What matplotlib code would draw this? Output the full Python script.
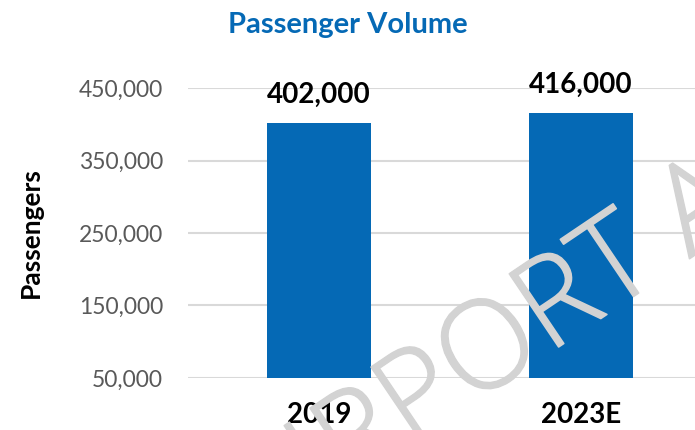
import matplotlib.pyplot as plt
import matplotlib.patheffects as pe
from matplotlib.ticker import FuncFormatter

plt.rcParams['font.family'] = ['Lato', 'DejaVu Sans']

years = ['2019', '2023E']
passengers = [402000, 416000]
y_ticks = [50000, 150000, 250000, 350000, 450000]

blue = '#0569B5'
base = 50000

fig = plt.figure(figsize=(6.95, 4.3), dpi=100)
ax = fig.add_axes([0.2705, 0.121, 0.7295, 0.6743])

x = list(range(len(years)))
ax.bar(x, [p - base for p in passengers], bottom=base, width=0.397,
       color=blue, zorder=2)

# value labels above each bar
for xi, p in zip(x, passengers):
    ax.annotate(f'{p:,}', (xi, p), xytext=(0, 14.4), textcoords='offset points',
                ha='center', va='baseline', fontsize=20, fontweight='bold',
                color='black', annotation_clip=False)

ax.set_xlim(-0.5, 1.435)
ax.set_ylim(base, 450000)
ax.set_yticks(y_ticks)
ax.yaxis.set_major_formatter(FuncFormatter(lambda v, _: f'{int(v):,}'))
ax.set_xticks(x)
ax.set_xticklabels(years, fontsize=20, fontweight='bold')
ax.tick_params(axis='y', labelsize=16.5, labelcolor='#595959', length=0, pad=18)
ax.tick_params(axis='x', length=0, pad=17)

ax.grid(axis='y', color='#d9d9d9', linewidth=1.5, zorder=0)
for s in ax.spines.values():
    s.set_visible(False)

ax.set_ylabel('Passengers', fontsize=19, fontweight='bold', va='center')
ax.yaxis.set_label_coords(-0.31, 0.5)

fig.text(0.5, 0.923, 'Passenger Volume', ha='center', va='baseline',
         fontsize=21, fontweight='bold', color=blue)

# watermark running up across the plot, split at the P so the letters land right
wm = dict(rotation=34, rotation_mode='anchor', va='baseline', fontsize=89,
          fontfamily=['Open Sans', 'DejaVu Sans'], fontweight='light',
          color='#d3d3d3', zorder=5,
          path_effects=[pe.withStroke(linewidth=1.2, foreground='#d3d3d3')])
fig.text(0.590, -0.040, 'PORT A', ha='left', **wm)
fig.text(0.590, -0.040, 'AIR', ha='right', **wm)

fig.savefig('out.png', dpi=100)
